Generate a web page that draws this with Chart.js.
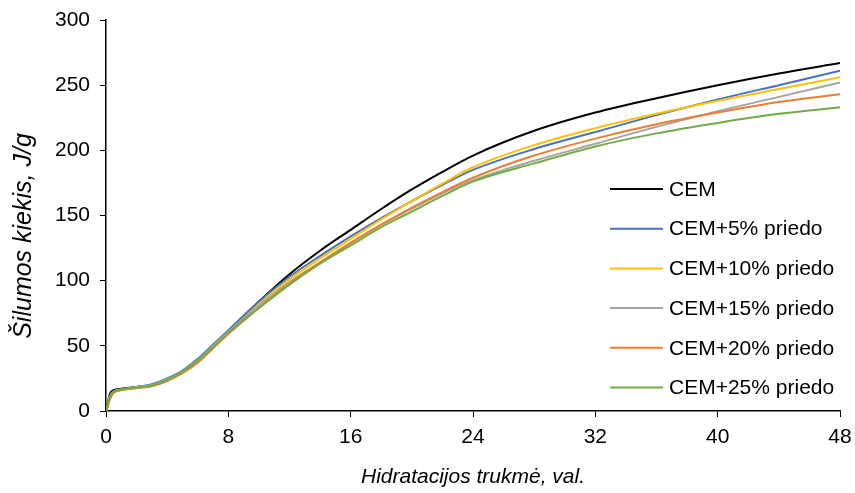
<!DOCTYPE html>
<html lang="lt">
<head>
    <meta charset="UTF-8">
    <title>Šilumos kiekis</title>
    <script src="https://cdn.jsdelivr.net/npm/chart.js@4.4.1/dist/chart.umd.min.js"></script>
    <style>
        html, body { margin: 0; padding: 0; background: #fff; }
        #wrap { width: 855px; height: 493px; }
    </style>
</head>
<body>
    <div id="wrap"><canvas id="heatChart" width="855" height="493"></canvas></div>
    <script>
        // Hidratacijos trukmė, val.
        const hours = [0, 0.1, 0.25, 0.5, 1, 2, 3, 4, 5, 6, 7, 8, 10, 12, 14, 16, 18, 20, 22, 24, 28, 32, 36, 40, 44, 48];

        // Šilumos kiekis, J/g
        const cem    = [0, 5, 13, 16, 17, 18.5, 20, 24, 30, 39, 50, 61, 84, 105, 123, 139, 155, 170, 183.5, 196, 215, 229, 240, 250, 259, 267];
        const cem5   = [0, 4, 11, 15, 16.5, 18.5, 20.5, 25, 31, 40, 51, 62, 84, 103, 119, 134, 148, 161, 173.5, 185, 201, 214, 227, 239, 250, 261];
        const cem10  = [0, 3, 9, 14, 16, 18, 19.5, 23.5, 29.5, 38, 49, 60, 82, 101, 117, 132, 147, 161, 174.5, 187, 204, 217, 228, 238, 247, 256];
        const cem15  = [0, 4, 11, 15, 16.5, 18.5, 20, 24.5, 30.5, 39, 50, 61, 81, 99, 114, 129, 143, 155, 167, 177, 192, 205, 218, 230, 241, 252];
        const cem20  = [0, 3, 9, 14, 16, 17.5, 19, 23, 29, 37, 48, 59, 79, 98, 114, 129, 143, 156, 168, 179, 196, 209, 220, 229, 237, 243];
        const cem25  = [0, 4, 11, 15, 16.5, 18, 19.5, 24, 30, 38.5, 49, 60, 79, 97, 113, 127, 141, 153, 165, 176, 190, 203, 213, 221, 228, 233];

        const seriesNames = ['CEM', 'CEM+5% priedo', 'CEM+10% priedo', 'CEM+15% priedo', 'CEM+20% priedo', 'CEM+25% priedo'];
        const seriesValues = [cem, cem5, cem10, cem15, cem20, cem25];
        const seriesColors = ['#000000', '#4472C4', '#FFC000', '#A5A5A5', '#ED7D31', '#70AD47'];

        const xTicks = [0, 8, 16, 24, 32, 40, 48];
        const yTicks = [0, 50, 100, 150, 200, 250, 300];

        const xTitle = 'Hidratacijos trukmė, val.';
        const yTitle = 'Šilumos kiekis, J/g';

        const fontFamily = '"Liberation Sans", Arial, sans-serif';

        const datasets = seriesValues.map((vals, i) => ({
            label: seriesNames[i],
            data: hours.map((h, j) => ({ x: h, y: vals[j] })),
            borderColor: seriesColors[i],
            backgroundColor: seriesColors[i],
            borderWidth: 2,
            pointRadius: 0,
            cubicInterpolationMode: 'monotone',
            fill: false,
            order: seriesValues.length - i  // later series on top, like the original
        }));

        // Legend inside the plot area + y title centred on the whole figure (as Excel does)
        const extras = {
            id: 'extras',
            afterDraw(chart) {
                const ctx = chart.ctx;
                const x0 = 610, lineLen = 53, gap = 6;
                const yStart = 189, step = 39.7;
                ctx.save();
                ctx.font = '21px ' + fontFamily;
                ctx.textBaseline = 'middle';
                ctx.textAlign = 'left';
                chart.data.datasets.forEach((ds, i) => {
                    const y = yStart + i * step;
                    ctx.strokeStyle = ds.borderColor;
                    ctx.lineWidth = 2;
                    ctx.beginPath();
                    ctx.moveTo(x0, y);
                    ctx.lineTo(x0 + lineLen, y);
                    ctx.stroke();
                    ctx.fillStyle = '#000';
                    ctx.fillText(ds.label, x0 + lineLen + gap, y + 1);
                });

                // y axis title
                ctx.translate(24, 236);
                ctx.rotate(-Math.PI / 2);
                ctx.font = 'italic 25px ' + fontFamily;
                ctx.textAlign = 'center';
                ctx.fillText(yTitle, 0, 0);
                ctx.restore();
            }
        };

        new Chart(document.getElementById('heatChart'), {
            type: 'line',
            data: { datasets: datasets },
            options: {
                responsive: false,
                animation: false,
                layout: { padding: { top: 20, right: 15, left: 0, bottom: 0 } },
                plugins: {
                    legend: { display: false },
                    tooltip: { enabled: false }
                },
                scales: {
                    x: {
                        type: 'linear',
                        min: 0,
                        max: 48,
                        afterBuildTicks: s => { s.ticks = xTicks.map(v => ({ value: v })); },
                        afterFit: s => { s.height = 82; s.paddingLeft = 0; s.paddingRight = 0; },
                        grid: { drawOnChartArea: false, drawTicks: true, tickLength: 6, color: '#000', lineWidth: 1 },
                        border: { display: true, color: '#000', width: 1.5 },
                        ticks: { color: '#000', padding: 8, maxRotation: 0, font: { family: fontFamily, size: 21 } },
                        title: {
                            display: true,
                            text: xTitle,
                            color: '#000',
                            padding: { top: 0, bottom: 3 },
                            font: { family: fontFamily, size: 21, style: 'italic' }
                        }
                    },
                    y: {
                        min: 0,
                        max: 300,
                        afterBuildTicks: s => { s.ticks = yTicks.map(v => ({ value: v })); },
                        afterFit: s => { s.width = 106; s.paddingTop = 0; s.paddingBottom = 0; },
                        grid: { drawOnChartArea: false, drawTicks: true, tickLength: 6, color: '#000', lineWidth: 1 },
                        border: { display: true, color: '#000', width: 1.5 },
                        ticks: { color: '#000', padding: 10, font: { family: fontFamily, size: 21 } },
                        title: { display: false }
                    }
                }
            },
            plugins: [extras]
        });
    </script>
</body>
</html>
